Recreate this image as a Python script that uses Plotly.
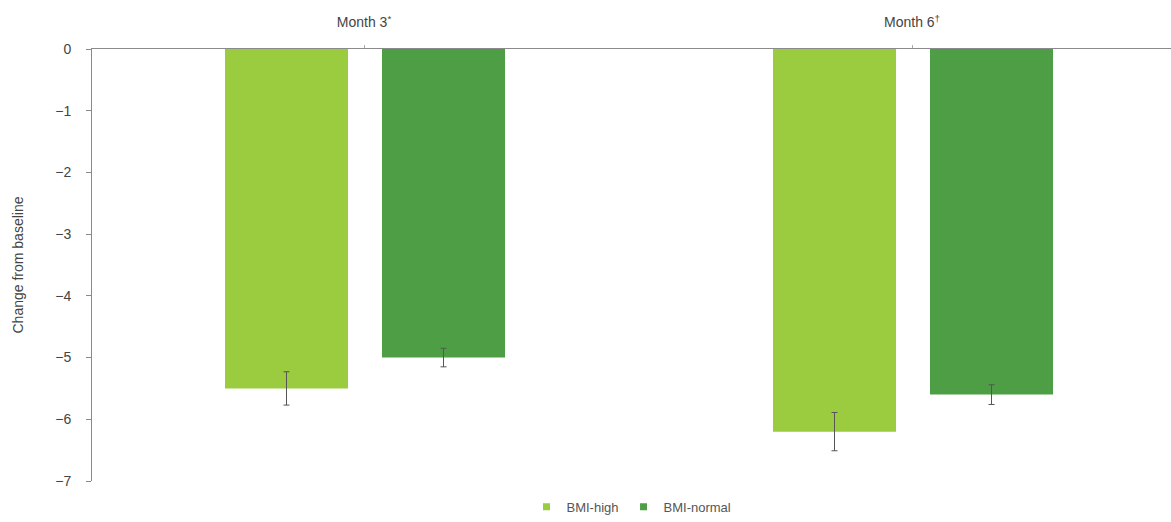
import plotly.graph_objects as go

# Change from baseline by BMI group at each visit
categories = ["Month 3<sup>*</sup>", "Month 6<sup>†</sup>"]
series_names = ["BMI-high", "BMI-normal"]
bmi_high = [-5.5, -6.2]
bmi_high_err = [0.27, 0.31]
bmi_normal = [-5.0, -5.6]
bmi_normal_err = [0.15, 0.16]
y_ticks = [0, -1, -2, -3, -4, -5, -6, -7]

LIGHT = "#9BCB3F"
DARK = "#4E9E45"
GREY = "#555555"
TEXT = "#444444"
FONT = "Liberation Sans, Arial, sans-serif"

x_idx = list(range(len(categories)))

fig = go.Figure()
fig.add_trace(go.Bar(
    x=x_idx, y=bmi_high, name=series_names[0], showlegend=False,
    marker=dict(color=LIGHT, line=dict(width=0)),
    width=0.2245, offset=-0.2537,
    error_y=dict(type="data", array=bmi_high_err, color=GREY, thickness=1, width=3),
))
fig.add_trace(go.Bar(
    x=x_idx, y=bmi_normal, name=series_names[1], showlegend=False,
    marker=dict(color=DARK, line=dict(width=0)),
    width=0.2245, offset=0.0328,
    error_y=dict(type="data", array=bmi_normal_err, color=GREY, thickness=1, width=3),
))

# Legend entries with small square keys
for name, color in zip(series_names, [LIGHT, DARK]):
    fig.add_trace(go.Scatter(
        x=[None], y=[None], mode="markers", name=name,
        marker=dict(symbol="square", size=7, color=color),
    ))

fig.update_layout(
    width=1171, height=522,
    margin=dict(l=92, r=0, t=49, b=39),
    paper_bgcolor="white", plot_bgcolor="white",
    font=dict(family=FONT, size=13, color=GREY),
    showlegend=True,
    legend=dict(
        orientation="h", x=0.5, xanchor="center", y=-0.06, yanchor="middle",
        font=dict(size=13, color=GREY), itemwidth=30, tracegroupgap=0,
    ),
    xaxis=dict(
        side="top",
        tickmode="array", tickvals=x_idx, ticktext=categories,
        range=[-0.4964, 1.4726],
        showline=True, linecolor="#8a8a8a", linewidth=1,
        ticks="outside", ticklen=3, tickcolor="#aaaaaa",
        ticklabelstandoff=12,
        showgrid=False, zeroline=False,
        tickfont=dict(size=14, color=TEXT),
    ),
    yaxis=dict(
        range=[-7, 0],
        tickmode="array", tickvals=y_ticks,
        showline=True, linecolor="#8a8a8a", linewidth=1,
        ticks="outside", ticklen=5, tickcolor="#8a8a8a",
        ticklabelstandoff=12,
        showgrid=False, zeroline=False,
        tickfont=dict(size=14, color=TEXT),
        title=dict(text="Change from baseline", font=dict(size=14, color=TEXT), standoff=28),
    ),
)

fig.write_html("out.html")
